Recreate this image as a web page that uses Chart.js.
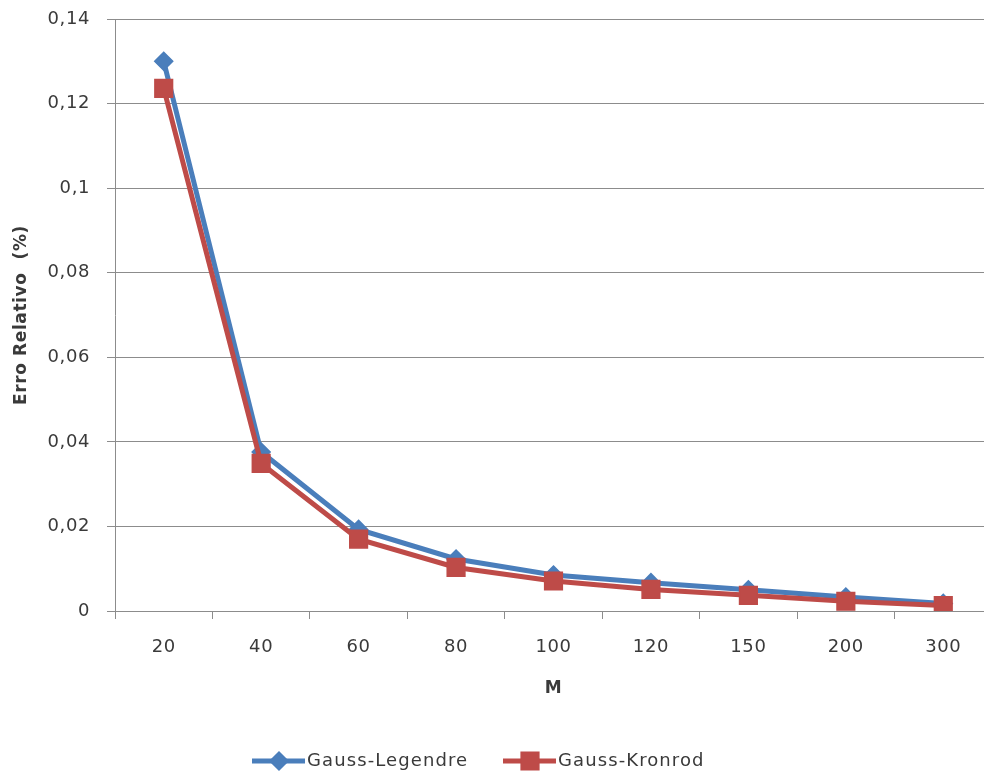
<!DOCTYPE html>
<html>
<head>
<meta charset="utf-8">
<script src="https://cdn.jsdelivr.net/npm/chart.js@4"></script>
<style>
  html, body { margin: 0; padding: 0; background: #ffffff; overflow: hidden; }
  #wrap { position: relative; width: 1006px; height: 774px; }
</style>
</head>
<body>
<div id="wrap"><canvas id="chart" width="1006" height="774"></canvas></div>
<script>
// Number of nodes M
const categories = ['20', '40', '60', '80', '100', '120', '150', '200', '300'];
// Relative error (%) for each quadrature rule
const gaussLegendre = [0.1300, 0.0376, 0.0193, 0.0123, 0.0085, 0.0067, 0.0050, 0.0033, 0.0018];
const gaussKronrod  = [0.1236, 0.0349, 0.0170, 0.0103, 0.0071, 0.0051, 0.0037, 0.0023, 0.0013];
// Y axis labels use a decimal comma
const yTickLabels = ['0', '0,02', '0,04', '0,06', '0,08', '0,1', '0,12', '0,14'];
const seriesNames = ['Gauss-Legendre', 'Gauss-Kronrod'];

const BLUE = '#4a7ebb';
const RED = '#be4b48';
const GRID = '#8c8c8c';
const TEXT = '#3a3a3a';
const FONT = '"DejaVu Sans", sans-serif';
const SPACING = '0.6px';

// Slightly wider text tracking for every label
const tracking = {
  id: 'tracking',
  beforeLayout(chart) { chart.ctx.letterSpacing = SPACING; },
  beforeDraw(chart) { chart.ctx.letterSpacing = SPACING; }
};

// Legend drawn below the plot: a short line segment with the series marker
const bottomLegend = {
  id: 'bottomLegend',
  afterDraw(chart) {
    const ctx = chart.ctx;
    const y = 761;
    const items = [
      { x: 252, color: BLUE, style: 'rectRot', r: 9, text: seriesNames[0] },
      { x: 503, color: RED, style: 'rect', r: 12.5, text: seriesNames[1] }
    ];
    ctx.save();
    items.forEach(it => {
      ctx.strokeStyle = it.color;
      ctx.lineWidth = 5;
      ctx.beginPath();
      ctx.moveTo(it.x, y);
      ctx.lineTo(it.x + 53, y);
      ctx.stroke();
      ctx.fillStyle = it.color;
      ctx.lineWidth = 1.5;
      Chart.helpers.drawPoint(ctx, { pointStyle: it.style, rotation: 0, radius: it.r, borderWidth: 1.5 }, it.x + 27, y);
      ctx.fillStyle = TEXT;
      ctx.font = '18px ' + FONT;
      ctx.letterSpacing = '1.1px';
      ctx.textBaseline = 'middle';
      ctx.textAlign = 'left';
      ctx.fillText(it.text, it.x + 55, y);
    });
    ctx.restore();
  }
};

new Chart(document.getElementById('chart'), {
  type: 'line',
  data: {
    labels: categories,
    datasets: [
      {
        label: seriesNames[0],
        data: gaussLegendre,
        borderColor: BLUE,
        backgroundColor: BLUE,
        borderWidth: 5,
        pointStyle: 'rectRot',
        pointRadius: 9,
        pointBorderWidth: 1.5,
        pointBackgroundColor: BLUE,
        pointBorderColor: BLUE,
        tension: 0,
        order: 1
      },
      {
        label: seriesNames[1],
        data: gaussKronrod,
        borderColor: RED,
        backgroundColor: RED,
        borderWidth: 5,
        pointStyle: 'rect',
        pointRadius: 12.5,
        pointBorderWidth: 1.5,
        pointBackgroundColor: RED,
        pointBorderColor: RED,
        tension: 0,
        order: 0
      }
    ]
  },
  options: {
    responsive: false,
    animation: false,
    layout: { padding: { top: 19, left: 0, right: 0, bottom: 74 } },
    plugins: {
      legend: { display: false },
      tooltip: { enabled: false }
    },
    scales: {
      x: {
        offset: true,
        grid: {
          display: true,
          offset: true,
          drawOnChartArea: false,
          drawTicks: true,
          tickLength: 8,
          color: GRID,
          lineWidth: 1
        },
        border: { display: true, color: GRID, width: 1 },
        ticks: {
          color: TEXT,
          font: { family: FONT, size: 18 },
          padding: 18,
          maxRotation: 0
        },
        title: {
          display: true,
          text: 'M',
          color: TEXT,
          font: { family: FONT, size: 17, weight: 'bold' },
          padding: { top: 0, bottom: 1 }
        },
        afterFit(scale) {
          scale.height = 89;
          scale.paddingLeft = 0;
          scale.paddingRight = 0;
        }
      },
      y: {
        min: 0,
        max: 0.14,
        ticks: {
          stepSize: 0.02,
          color: TEXT,
          font: { family: FONT, size: 18 },
          padding: 17,
          callback: (v, i) => yTickLabels[i]
        },
        grid: {
          color: GRID,
          lineWidth: 1,
          drawTicks: true,
          tickLength: 8
        },
        border: { display: true, color: GRID, width: 1 },
        title: {
          display: true,
          text: 'Erro Relativo  (%)',
          color: TEXT,
          font: { family: FONT, size: 17, weight: 'bold' },
          padding: { top: 11, bottom: 0 }
        },
        afterFit(scale) {
          scale.width = 115;
          scale.paddingTop = 0;
          scale.paddingBottom = 0;
        }
      }
    }
  },
  plugins: [tracking, bottomLegend]
});
</script>
</body>
</html>
